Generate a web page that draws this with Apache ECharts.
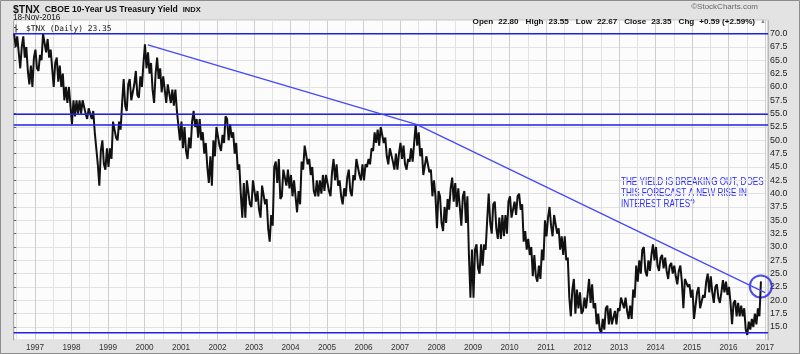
<!DOCTYPE html>
<html>
<head>
<meta charset="utf-8">
<title>$TNX CBOE 10-Year US Treasury Yield</title>
<script src="https://cdn.jsdelivr.net/npm/echarts@6/dist/echarts.min.js"></script>
<style>
  html, body { margin: 0; padding: 0; background: #e3e3e3; }
  #chart { width: 800px; height: 354px; }
</style>
</head>
<body>
<div id="chart"></div>
<script>
// first monthly bar is June 1996, axis runs to Feb 2017
var startYear = 1996;
var startMonth = 6;
var axisMonths = 249;

// monthly low / high of $TNX (yield x10), Jun 1996 .. Nov 2016
var lowYield = [
  67.5, 66.5, 63.5, 65.5, 63.0, 60.5, 60.0,                               // 1996
  63.5, 63.0, 65.0, 66.5, 65.5, 63.5, 60.0, 61.0, 60.0, 57.5, 57.0, 56.5, // 1997
  53.0, 54.5, 55.0, 55.0, 55.0, 54.0, 54.0, 51.5, 45.5, 41.5, 45.5, 44.5, // 1998
  45.0, 46.5, 50.5, 50.0, 52.0, 56.5, 55.5, 57.5, 57.5, 58.5, 58.0, 60.0, // 1999
  63.5, 62.5, 59.5, 57.0, 61.5, 59.0, 59.5, 57.0, 57.0, 56.5, 55.5, 50.0, // 2000
  48.5, 48.0, 46.5, 48.5, 52.5, 50.5, 50.0, 47.5, 45.0, 42.0, 41.5, 47.0, // 2001
  49.0, 48.0, 49.5, 50.0, 50.5, 47.5, 44.5, 40.0, 35.5, 35.5, 38.0, 37.5, // 2002
  38.5, 37.0, 35.5, 38.0, 33.5, 31.0, 34.0, 42.0, 39.0, 39.5, 41.5, 41.0, // 2003
  39.5, 39.5, 36.5, 38.0, 44.5, 45.5, 43.5, 40.5, 39.5, 39.5, 40.0, 40.5, // 2004
  40.5, 39.5, 42.5, 41.5, 39.5, 38.0, 39.5, 40.5, 39.5, 42.5, 43.5, 42.5, // 2005
  42.5, 45.0, 45.5, 48.0, 49.5, 49.0, 49.5, 47.0, 45.5, 46.0, 44.5, 44.5, // 2006
  46.5, 45.5, 44.5, 46.0, 46.0, 49.0, 47.0, 43.5, 43.5, 44.0, 39.5, 39.5, // 2007
  33.5, 34.5, 33.0, 34.5, 37.0, 38.5, 37.5, 37.5, 34.0, 34.5, 28.5, 20.5, // 2008
  20.5, 26.0, 25.0, 26.5, 29.5, 34.5, 32.5, 33.5, 31.5, 31.5, 32.0, 32.5, // 2009
  35.5, 35.5, 36.0, 37.0, 31.0, 29.5, 28.5, 24.5, 24.5, 23.5, 24.0, 27.5, // 2010
  32.0, 34.0, 32.0, 32.5, 29.5, 28.5, 27.5, 20.5, 17.0, 17.5, 18.5, 17.5, // 2011
  18.0, 18.5, 19.5, 18.5, 15.5, 14.5, 13.9, 14.5, 15.5, 15.5, 15.5, 15.5, // 2012
  18.0, 18.5, 18.0, 16.5, 16.5, 20.5, 23.5, 25.0, 25.5, 24.5, 25.5, 27.5, // 2013
  26.5, 25.5, 26.0, 25.5, 24.0, 25.0, 24.5, 23.0, 23.5, 18.5, 22.5, 20.5, // 2014
  16.5, 16.5, 18.5, 18.5, 20.5, 21.5, 21.5, 19.5, 20.5, 19.5, 21.5, 21.0, // 2015
  19.5, 15.5, 17.0, 17.0, 17.0, 14.5, 13.5, 14.5, 15.0, 15.5, 17.0        // 2016
];
var highYield = [
  70.0, 69.5, 67.5, 69.5, 67.5, 64.0, 65.5,                               // 1996
  67.0, 66.0, 70.0, 70.0, 69.0, 67.0, 64.5, 65.5, 64.0, 62.5, 60.0, 60.0, // 1997
  57.5, 57.5, 57.5, 57.5, 57.5, 56.0, 56.0, 55.5, 51.5, 48.0, 50.0, 48.5, // 1998
  48.5, 53.5, 53.5, 53.5, 57.0, 61.5, 60.5, 61.5, 60.5, 63.0, 62.0, 64.5, // 1999
  68.0, 66.5, 64.5, 62.5, 65.5, 63.5, 62.0, 60.5, 60.5, 59.5, 59.5, 55.5, // 2000
  53.5, 52.5, 50.5, 53.5, 55.5, 54.0, 54.0, 51.5, 49.5, 47.0, 50.0, 52.5, // 2001
  52.5, 51.0, 54.5, 54.0, 53.0, 51.5, 49.5, 45.5, 42.0, 42.5, 42.5, 42.5, // 2002
  42.5, 40.5, 41.5, 41.5, 39.0, 36.0, 45.0, 46.0, 46.5, 44.5, 44.5, 44.5, // 2003
  43.5, 42.5, 40.5, 46.0, 49.0, 49.0, 46.5, 45.0, 42.5, 42.5, 43.5, 43.5, // 2004
  43.5, 44.0, 46.5, 45.5, 42.5, 41.0, 43.0, 44.5, 43.5, 46.5, 46.5, 45.5, // 2005
  45.5, 46.5, 48.5, 51.5, 52.0, 52.5, 52.5, 50.5, 48.5, 48.5, 47.5, 47.5, // 2006
  49.5, 49.0, 46.5, 48.5, 49.5, 53.0, 51.5, 48.5, 47.0, 47.0, 44.5, 42.5, // 2007
  40.5, 39.5, 37.5, 39.0, 41.0, 43.0, 42.0, 41.0, 39.5, 40.5, 39.5, 29.5, // 2008
  29.5, 30.5, 30.5, 30.5, 35.0, 40.0, 38.0, 38.5, 35.5, 36.0, 36.0, 38.5, // 2009
  39.5, 38.5, 39.5, 40.0, 38.0, 33.0, 31.5, 30.0, 28.5, 26.5, 29.5, 35.0, // 2010
  35.5, 37.5, 36.0, 36.0, 33.5, 32.0, 32.0, 28.0, 22.0, 24.0, 22.0, 21.5, // 2011
  20.5, 21.0, 24.0, 23.0, 19.5, 17.5, 16.5, 18.5, 19.0, 18.5, 18.0, 18.5, // 2012
  20.5, 20.5, 20.5, 19.0, 22.0, 26.5, 27.5, 29.5, 30.0, 27.5, 28.5, 30.5, // 2013
  30.0, 28.0, 28.5, 28.0, 26.5, 27.0, 26.5, 25.5, 26.5, 24.0, 24.0, 23.0, // 2014
  22.0, 21.5, 22.5, 21.0, 23.5, 25.0, 24.5, 22.5, 23.0, 21.5, 23.8, 23.5, // 2015
  22.5, 19.5, 20.0, 19.5, 19.0, 18.5, 16.0, 16.5, 17.5, 18.5, 23.55       // 2016
];

// hand drawn annotations (x in months from Jun 1996)
var levelLines = [70.0, 54.9, 52.85, 13.9];
var trendMonth = [44.1, 132.6, 247.0];
var trendValue = [67.9, 52.94, 21.44];
var breakoutPoint = [245.6, 22.6];

var months = [];
for (var i = 0; i < axisMonths; i++) {
    var m = startMonth - 1 + i;
    var mm = m % 12 + 1;
    months.push((startYear + Math.floor(m / 12)) + '-' + (mm < 10 ? '0' + mm : mm));
}

// each month goes low->high or high->low depending on where the next month sits
var pricePath = [];
lowYield.forEach(function (lo, i) {
    var hi = highYield[i];
    var up = i === lowYield.length - 1 ||
        (lowYield[i + 1] + highYield[i + 1]) >= (lo + hi);
    pricePath.push([i + 0.15, up ? lo : hi]);
    pricePath.push([i + 0.65, up ? hi : lo]);
});

var blue = '#2020e6';
var seriesName = '$TNX (Daily) 23.35';

var series = [{
    name: seriesName,
    type: 'line',
    xAxisIndex: 1,
    data: pricePath,
    symbol: 'none',
    lineStyle: { color: '#111', width: 2 },
    itemStyle: { color: '#111' }
}];
levelLines.forEach(function (v) {
    series.push({
        type: 'line',
        xAxisIndex: 1,
        data: [[0, v], [axisMonths - 1, v]],
        symbol: 'none',
        silent: true,
        lineStyle: { color: blue, width: 1.5 }
    });
});
series.push({
    type: 'line',
    xAxisIndex: 1,
    data: trendMonth.map(function (x, i) { return [x, trendValue[i]]; }),
    symbol: 'none',
    silent: true,
    lineStyle: { color: '#4646ff', width: 1.2 }
});
series.push({
    type: 'scatter',
    xAxisIndex: 1,
    data: [breakoutPoint],
    symbol: 'circle',
    symbolSize: 22,
    silent: true,
    itemStyle: { color: 'rgba(0,0,0,0)', borderColor: blue, borderWidth: 2 }
});

var option = {
    backgroundColor: '#e3e3e3',
    animation: false,
    textStyle: { fontFamily: 'Liberation Sans, Arial, sans-serif' },
    title: [{
        left: 13, top: 1, padding: 0,
        text: '{a|$TNX} {b|CBOE 10-Year US Treasury Yield} {c|INDX}',
        textStyle: {
            rich: {
                a: { fontSize: 10.5, fontWeight: 'bold', color: '#111', lineHeight: 12 },
                b: { fontSize: 8.6, color: '#111', lineHeight: 12 },
                c: { fontSize: 7.5, color: '#111', lineHeight: 12 }
            }
        }
    }, {
        left: 13, top: 12.5, padding: 0,
        text: '18-Nov-2016',
        textStyle: { fontSize: 8.2, fontWeight: 'normal', color: '#111', lineHeight: 10 }
    }, {
        right: 42, top: 2, padding: 0,
        text: '\u00a9StockCharts.com',
        textStyle: { fontSize: 8, fontWeight: 'normal', color: '#666', lineHeight: 10 }
    }, {
        right: 34, top: 12.5, padding: 0,
        text: '{k|Open} {v|22.80} {k|High} {v|23.55} {k|Low} {v|22.67} {k|Close} {v|23.35} {k|Chg} {v|+0.59 (+2.59%)} {t|\u25b2}',
        textStyle: {
            rich: {
                k: { fontSize: 8.1, fontWeight: 'bold', color: '#111', lineHeight: 10, padding: [0, 0, 0, 2] },
                v: { fontSize: 8.1, color: '#111', lineHeight: 10 },
                t: { fontSize: 6, color: '#888', lineHeight: 10 }
            }
        }
    }],
    legend: {
        left: 14, top: 24.5, padding: 0, itemGap: 0,
        itemWidth: 6, itemHeight: 8,
        selectedMode: false,
        data: [{ name: seriesName, icon: 'path://M2,0h1v10h-1zM0,3h2v1h-2zM3,6h2v1h-2z' }],
        textStyle: { fontFamily: 'DejaVu Sans Mono, monospace', fontSize: 7.9, color: '#111', padding: [0, 0, 0, 2] }
    },
    grid: {
        left: 13.7, right: 31.9, top: 20.3, bottom: 13.7,
        show: true,
        backgroundColor: '#fcfcfc',
        borderColor: '#9a9a9a',
        borderWidth: 1,
        containLabel: false,
        outerBoundsMode: 'none'
    },
    xAxis: [{
        type: 'category',
        data: months,
        boundaryGap: false,
        axisLine: { show: false },
        axisTick: { show: false },
        axisLabel: {
            interval: function (i, v) { return v.slice(5) === '01'; },
            formatter: function (v) { return v.slice(0, 4); },
            color: '#333', fontSize: 8.2, margin: 3
        },
        splitLine: {
            show: true,
            interval: function (i, v) { return v.slice(5) === '01' || v.slice(5) === '07'; },
            lineStyle: { color: ['#e2e2e2', '#cfcfcf'], width: 1 }
        }
    }, {
        type: 'value',
        min: 0,
        max: axisMonths - 1,
        show: false
    }],
    yAxis: {
        type: 'value',
        position: 'right',
        min: 12.5,
        max: 72.5,
        interval: 2.5,
        axisLine: { show: false },
        axisTick: { show: true, length: 2.5, lineStyle: { color: '#666' } },
        axisLabel: {
            showMinLabel: false,
            showMaxLabel: false,
            formatter: function (v) { return v.toFixed(1); },
            color: '#222', fontSize: 8.9, margin: 2
        },
        splitLine: { show: true, lineStyle: { color: '#e2e2e2', width: 1 } }
    },
    graphic: [{
        type: 'text',
        left: 621, top: 177,
        scaleX: 0.8,
        silent: true,
        style: {
            text: 'THE YIELD IS BREAKING OUT, DOES\nTHIS FORECAST A NEW RISE IN\nINTEREST RATES?',
            fill: '#2a2aff',
            fontSize: 10.2,
            fontFamily: 'Liberation Sans, Arial, sans-serif',
            lineHeight: 10.8
        }
    }, {
        type: 'rect',
        silent: true,
        shape: { x: 0.5, y: 0.5, width: 799, height: 353 },
        style: { fill: 'none', stroke: '#8c8c8c', lineWidth: 1 }
    }],
    series: series
};

var myChart = echarts.init(document.getElementById('chart'));
myChart.setOption(option);
window.addEventListener('resize', function () {
    myChart.resize();
});
</script>
</body>
</html>
